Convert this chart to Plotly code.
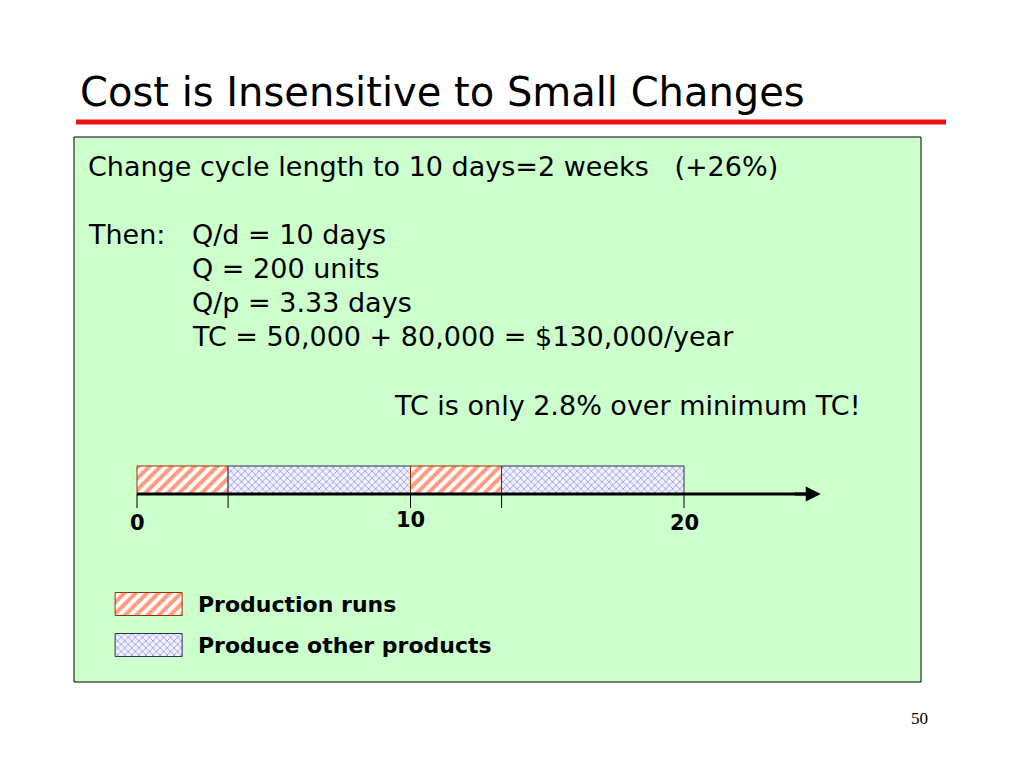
import plotly.graph_objects as go

# timeline segments (days)
seg_start = [0, 3.33, 10, 13.33]
seg_end = [3.33, 10, 13.33, 20]
seg_kind = ["Production runs", "Produce other products", "Production runs", "Produce other products"]
tick_vals = [0, 3.33, 10, 13.33, 20]
label_vals = [0, 10, 20]
legend_names = ["Production runs", "Produce other products"]

W, H = 1024, 768
OFF = 8  # page body margin
styles = {
    "Production runs": dict(color="white", line=dict(color="#993300", width=1),
                            pattern=dict(shape="/", fgcolor="#ff3300", bgcolor="white", size=8, solidity=0.5)),
    "Produce other products": dict(color="white", line=dict(color="#333355", width=1),
                                   pattern=dict(shape="x", fgcolor="#4444cc", bgcolor="#f0f0ff", size=5, solidity=0.3)),
}

def px(x):
    return (x - OFF) / W

fig = go.Figure()
for s, e, k in zip(seg_start, seg_end, seg_kind):
    fig.add_trace(go.Bar(y=[480], x=[e - s], base=[s], orientation="h", width=28,
                         marker=styles[k], showlegend=False, hoverinfo="skip"))

# legend swatches
for i, name in enumerate(legend_names):
    yy = 604 + 41 * i
    fig.add_trace(go.Bar(y=[yy], x=[2.45], base=[-0.8], orientation="h", width=23,
                         marker=styles[name], showlegend=False, hoverinfo="skip"))
    fig.add_annotation(x=2.15, y=yy, xref="x", yref="y", text="<b>" + name + "</b>",
                       showarrow=False, xanchor="left", font=dict(size=22, color="black"))

shapes = [
    dict(type="rect", xref="paper", yref="y", x0=px(74), x1=px(921), y0=682, y1=137,
         fillcolor="#ccffcc", line=dict(color="black", width=1), layer="below"),
    dict(type="line", xref="paper", yref="y", x0=px(76), x1=px(946), y0=122, y1=122,
         line=dict(color="#ee1111", width=5)),
    dict(type="line", xref="x", yref="y", x0=0, x1=24.5, y0=494, y1=494, line=dict(color="black", width=3)),
]
for t in tick_vals:
    shapes.append(dict(type="line", xref="x", yref="y", x0=t, x1=t, y0=494, y1=508,
                       line=dict(color="black", width=1)))
fig.update_layout(shapes=shapes)

# arrow head
fig.add_annotation(x=25.0, y=494, ax=24.0, ay=494, xref="x", yref="y", axref="x", ayref="y",
                   text="", showarrow=True, arrowhead=2, arrowsize=1, arrowwidth=3, arrowcolor="black")

for v in label_vals:
    yl = 520 if v == 10 else 523
    fig.add_annotation(x=v, y=yl, xref="x", yref="y", text="<b>%d</b>" % v, showarrow=False,
                       font=dict(size=21, color="black"))

fig.add_annotation(x=px(78), y=92, xref="paper", yref="y", text="Cost is Insensitive to Small Changes",
                   showarrow=False, xanchor="left", font=dict(size=40, color="black"))

body = [
    (86, 166, "Change cycle length to 10 days=2 weeks   (+26%)"),
    (86, 234, "Then:"),
    (190, 234, "Q/d = 10 days"),
    (190, 268, "Q = 200 units"),
    (190, 302, "Q/p = 3.33 days"),
    (190, 336, "TC = 50,000 + 80,000 = $130,000/year"),
    (392, 405, "TC is only 2.8% over minimum TC!"),
]
for x, y, t in body:
    fig.add_annotation(x=px(x), y=y, xref="paper", yref="y", text=t, showarrow=False,
                       xanchor="left", font=dict(size=27, color="black"))

fig.add_annotation(x=px(930), y=718, xref="paper", yref="y", text="50", showarrow=False,
                   font=dict(size=17, color="black", family="Liberation Serif"))

fig.update_layout(
    width=W, height=H, margin=dict(l=0, r=0, t=0, b=0),
    paper_bgcolor="white", plot_bgcolor="rgba(0,0,0,0)",
    font=dict(family="DejaVu Sans"),
    barmode="overlay",
    xaxis=dict(range=[-(137 - OFF) / 27.35, (W - 137 + OFF) / 27.35], visible=False, domain=[0, 1]),
    yaxis=dict(range=[H + OFF, OFF], visible=False, domain=[0, 1]),
)
fig.write_html("out.html")
